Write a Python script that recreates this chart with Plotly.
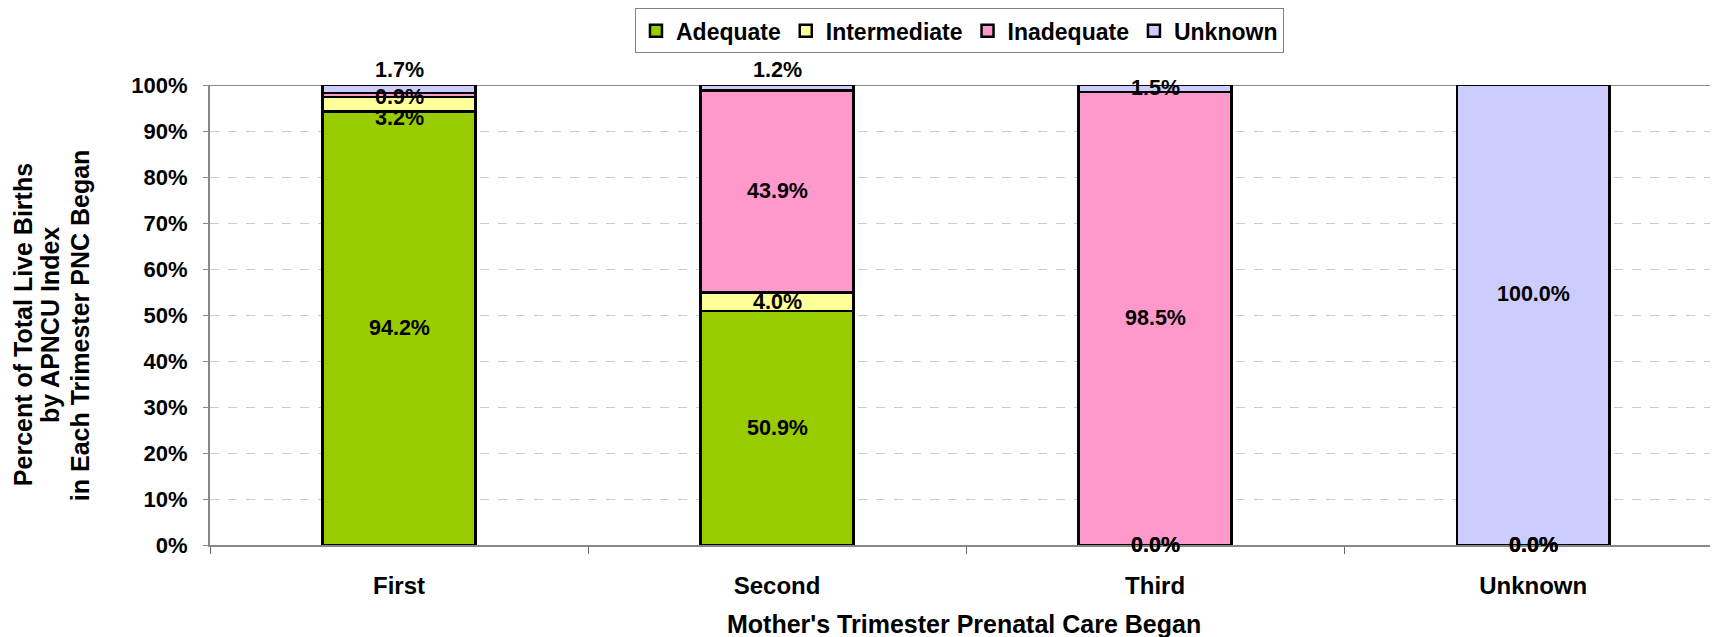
import plotly.graph_objects as go

categories = ["First", "Second", "Third", "Unknown"]
adequate = [94.2, 50.9, 0.0, 0.0]
intermediate = [3.2, 4.0, 0.0, 0.0]
inadequate = [0.9, 43.9, 98.5, 0.0]
unknown = [1.7, 1.2, 1.5, 100.0]
series_names = ["Adequate", "Intermediate", "Inadequate", "Unknown"]
series_values = [adequate, intermediate, inadequate, unknown]
y_ticks = [0, 10, 20, 30, 40, 50, 60, 70, 80, 90, 100]
y_title_lines = ["Percent of Total Live Births", "by APNCU Index", "in Each Trimester PNC Began"]
x_title = "Mother's Trimester Prenatal Care Began"

colors = ["#99CC00", "#FFFF99", "#FF99CC", "#CCCCFF"]
FONT = "Arial, Liberation Sans, sans-serif"

# label pixel offsets (styling only), keyed by (series index, category index)
label_shift = {(1, 0): -14, (2, 0): -2, (3, 0): 19, (3, 1): 18, (3, 3): 21}

fig = go.Figure()
for name, vals, col in zip(series_names, series_values, colors):
    fig.add_trace(go.Bar(
        name=name, x=categories, y=vals, width=0.404,
        marker=dict(color=col, line=dict(color="black", width=2.5)),
    ))

annotations = []
base = [0.0] * len(categories)
for si, vals in enumerate(series_values):
    for ci, v in enumerate(vals):
        annotations.append(dict(
            x=categories[ci], y=base[ci] + v / 2, xref="x", yref="y",
            text=f"{v:.1f}%", showarrow=False,
            yshift=label_shift.get((si, ci), 0),
            font=dict(family=FONT, size=21.5, color="black", weight="bold"),
        ))
        base[ci] += v

annotations.append(dict(
    x=0.5, y=-0.1717, xref="paper", yref="paper", xanchor="center", yanchor="middle",
    text=x_title, showarrow=False,
    font=dict(family=FONT, size=25, color="black", weight="bold"),
))
for xp, line in zip([-0.1240, -0.1061, -0.0862], y_title_lines):
    annotations.append(dict(
        x=xp, y=0.478, xref="paper", yref="paper", xanchor="center", yanchor="middle",
        text=line, textangle=-90, showarrow=False,
        font=dict(family=FONT, size=25, color="black", weight="bold"),
    ))

# page body has an 8px margin; figure is sized so the plot lands where the reference has it
fig.update_layout(
    width=1710, height=629,
    barmode="stack",
    plot_bgcolor="white", paper_bgcolor="white",
    margin=dict(l=202, r=0, t=77, b=92),
    font=dict(family=FONT, color="black"),
    annotations=annotations,
    showlegend=True,
    legend=dict(
        orientation="h", x=0.497, y=1.167, xanchor="center", yanchor="top",
        bordercolor="#808080", borderwidth=1, bgcolor="white",
        font=dict(family=FONT, size=23, color="black", weight="bold"),
        traceorder="normal",
    ),
    shapes=[dict(type="line", xref="paper", yref="y", x0=0, x1=1, y0=100, y1=100,
                 line=dict(color="#888888", width=2), layer="below")],
)
fig.update_xaxes(
    range=[-0.5, 3.489], showline=True, linecolor="#888888", linewidth=2,
    ticks="outside", tickson="boundaries", ticklen=7, tickcolor="#666666", tickwidth=1,
    ticklabelstandoff=18,
    tickfont=dict(family=FONT, size=24, color="black", weight="bold"),
    showgrid=False,
)
fig.update_yaxes(
    range=[0, 100], tickvals=y_ticks, ticktext=[f"{t}%" for t in y_ticks],
    showline=True, linecolor="#888888", linewidth=2,
    ticks="outside", ticklen=5, tickcolor="#888888", tickwidth=1,
    ticklabelstandoff=11,
    tickfont=dict(family=FONT, size=22, color="black", weight="bold"),
    showgrid=True, gridcolor="#cccccc", griddash="dash", gridwidth=1,
    zeroline=False,
)

fig.write_html("out.html")
